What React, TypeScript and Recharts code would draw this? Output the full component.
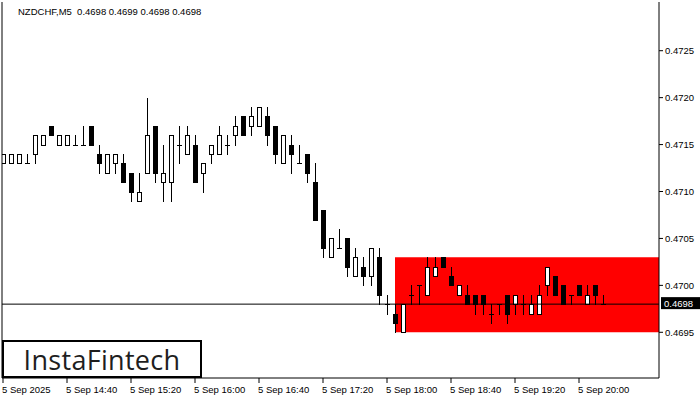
import { ComposedChart, Bar, XAxis, YAxis, ReferenceArea, ReferenceLine } from 'recharts'

// 5 minute candles, 14:00 .. 20:15
const opens = [
  0.4713, 0.4713, 0.4713, 0.4713, 0.4714, 0.4715, 0.4717, 0.4715, 0.4715, 0.4715,
  0.4715, 0.4717, 0.4714, 0.4712, 0.4713, 0.4713, 0.4712, 0.4709, 0.4712, 0.4717,
  0.4711, 0.4711, 0.4715, 0.4714, 0.4715, 0.4712, 0.4714, 0.4714, 0.4715, 0.4716,
  0.4718, 0.4717, 0.4717, 0.4718, 0.4717, 0.4713, 0.4715, 0.4713, 0.4714, 0.4711,
  0.4708, 0.4703, 0.4704, 0.4705, 0.4701, 0.4702, 0.4701, 0.4703, 0.4698, 0.4697,
  0.4695, 0.4699, 0.47, 0.4699, 0.4701, 0.4703, 0.4701, 0.4699, 0.4699, 0.4699,
  0.4699, 0.4697, 0.4698, 0.4699, 0.4698, 0.4698, 0.4697, 0.4697, 0.47, 0.4701,
  0.47, 0.4699, 0.47, 0.4698, 0.47, 0.4698,
]
const highs = [
  0.4714, 0.4714, 0.4714, 0.4714, 0.4716, 0.4716, 0.4717, 0.4716, 0.4716, 0.4716,
  0.4717, 0.4717, 0.4715, 0.4714, 0.4714, 0.4714, 0.4712, 0.4712, 0.472, 0.4717,
  0.4715, 0.4716, 0.4717, 0.4717, 0.4716, 0.4713, 0.4715, 0.4717, 0.4716, 0.4718,
  0.4718, 0.4719, 0.4719, 0.4719, 0.4717, 0.4716, 0.4716, 0.4715, 0.4714, 0.4713,
  0.4708, 0.4705, 0.4706, 0.4705, 0.4704, 0.4703, 0.4704, 0.4704, 0.4699, 0.4698,
  0.4698, 0.47, 0.47, 0.4703, 0.4703, 0.4703, 0.4702, 0.47, 0.47, 0.4699,
  0.4699, 0.4698, 0.4698, 0.4699, 0.4699, 0.4699, 0.4699, 0.47, 0.4702, 0.4701,
  0.47, 0.4699, 0.47, 0.47, 0.47, 0.4699,
]
const lows = [
  0.4713, 0.4713, 0.4713, 0.4713, 0.4713, 0.4715, 0.4716, 0.4715, 0.4715, 0.4715,
  0.4715, 0.4715, 0.4712, 0.4712, 0.4712, 0.4711, 0.4709, 0.4709, 0.4712, 0.4711,
  0.4709, 0.4709, 0.4713, 0.4714, 0.4711, 0.471, 0.4713, 0.4714, 0.4714, 0.4715,
  0.4716, 0.4716, 0.4717, 0.4715, 0.4713, 0.4713, 0.4712, 0.4713, 0.4711, 0.4707,
  0.4703, 0.4703, 0.4704, 0.4701, 0.4701, 0.47, 0.47, 0.4698, 0.4697, 0.4695,
  0.4695, 0.4698, 0.4698, 0.4699, 0.4701, 0.4702, 0.47, 0.4699, 0.4698, 0.4697,
  0.4697, 0.4696, 0.4697, 0.4696, 0.4697, 0.4697, 0.4697, 0.4697, 0.4699, 0.4699,
  0.4698, 0.4698, 0.4699, 0.4698, 0.4698, 0.4698,
]
const closes = [
  0.4714, 0.4714, 0.4714, 0.4713, 0.4716, 0.4716, 0.4716, 0.4716, 0.4716, 0.4715,
  0.4715, 0.4715, 0.4713, 0.4714, 0.4714, 0.4711, 0.471, 0.471, 0.4716, 0.4712,
  0.4712, 0.4716, 0.4715, 0.4716, 0.4711, 0.4713, 0.4715, 0.4716, 0.4715, 0.4717,
  0.4716, 0.4718, 0.4719, 0.4716, 0.4714, 0.4716, 0.4714, 0.4713, 0.4712, 0.4707,
  0.4704, 0.4705, 0.4704, 0.4702, 0.4703, 0.4701, 0.4704, 0.4699, 0.4698, 0.4696,
  0.4698, 0.4699, 0.47, 0.4702, 0.4702, 0.4702, 0.47, 0.47, 0.4698, 0.4698,
  0.4698, 0.4697, 0.4698, 0.4697, 0.4699, 0.4698, 0.4698, 0.4699, 0.4702, 0.4699,
  0.4698, 0.4699, 0.4699, 0.4699, 0.4699, 0.4698,
]

const timeTicks = [0, 8, 16, 24, 32, 40, 48, 56, 64, 72]
const timeLabels = [
  '5 Sep 2025', '5 Sep 14:40', '5 Sep 15:20', '5 Sep 16:00', '5 Sep 16:40',
  '5 Sep 17:20', '5 Sep 18:00', '5 Sep 18:40', '5 Sep 19:20', '5 Sep 20:00',
]
const priceTicks = [0.4695, 0.47, 0.4705, 0.471, 0.4715, 0.472, 0.4725]

const lastPrice = 0.4698
const zoneStart = 49
const zoneLow = 0.4695
const zoneHigh = 0.4703

const data = opens.map((o, i) => ({
  idx: i,
  range: [lows[i], highs[i]],
  open: o,
  high: highs[i],
  low: lows[i],
  close: closes[i],
}))

const FONT = '"Liberation Sans", Arial, sans-serif'

function Candle(props: any) {
  const { x, y, width, height, payload } = props
  if (!payload) return null
  const { open, close, high, low } = payload
  const cx = Math.round(x + width / 2)
  const top = Math.min(y, y + height)
  const h = Math.abs(height)
  const py = (p: number) => Math.round(top + ((high - p) / (high - low)) * h)
  const yH = py(high)
  const yL = py(low)
  const yO = py(open)
  const yC = py(close)
  const bTop = Math.min(yO, yC)
  const bBot = Math.max(yO, yC)
  return (
    <g shapeRendering='crispEdges'>
      <rect x={cx} y={yH} width={1} height={yL - yH + 1} fill='#000' />
      {open === close ? (
        <rect x={cx - 2} y={yO} width={5} height={1} fill='#000' />
      ) : close > open ? (
        <>
          <rect x={cx - 2} y={bTop} width={5} height={bBot - bTop + 1} fill='#000' />
          <rect x={cx - 1} y={bTop + 1} width={3} height={Math.max(bBot - bTop - 1, 0)} fill='#fff' />
        </>
      ) : (
        <rect x={cx - 2} y={bTop} width={5} height={bBot - bTop + 1} fill='#000' />
      )}
    </g>
  )
}

function TimeTick(props: any) {
  const { x, y, payload } = props
  const k = timeTicks.indexOf(payload.value)
  return (
    <text x={x - 1} y={y} dy='0.71em' textAnchor='start' fontSize={9.5} fontFamily={FONT} fill='#000'>
      {timeLabels[k]}
    </text>
  )
}

function PriceTag(props: any) {
  const { viewBox } = props
  const right = viewBox.x + viewBox.width
  return (
    <g>
      <rect x={right + 2} y={viewBox.y - 7} width={39} height={12} fill='#000' />
      <text x={right + 5} y={viewBox.y + 3} fontSize={9.5} fontFamily={FONT} fill='#fff'>
        {lastPrice.toFixed(4)}
      </text>
    </g>
  )
}

export default function App() {
  return (
    <div style={{ position: 'absolute', left: 0, top: 0, width: 700, height: 400, background: '#fff' }}>
      <ComposedChart width={700} height={400} data={data} margin={{ top: 2, right: 0, left: 0, bottom: 0 }}>
        <XAxis
          dataKey='idx'
          type='number'
          domain={[-0.125, 82]}
          allowDataOverflow
          ticks={timeTicks}
          interval={0}
          height={22}
          tickSize={5}
          tickMargin={3}
          stroke='#000'
          tick={<TimeTick />}
        />
        <YAxis yAxisId='f' orientation='left' width={2} domain={[0.469013, 0.473019]} allowDataOverflow tick={false} tickLine={false} stroke='#000' />
        <YAxis
          yAxisId='p'
          orientation='right'
          width={41}
          domain={[0.469013, 0.473019]}
          allowDataOverflow
          ticks={priceTicks}
          interval={0}
          tickSize={4}
          tickMargin={2}
          stroke='#000'
          tick={{ fill: '#000', fontSize: 9.5, fontFamily: FONT }}
          tickFormatter={(v: number) => v.toFixed(4)}
        />
        <ReferenceArea yAxisId='p' x1={zoneStart} x2={82} y1={zoneLow} y2={zoneHigh} fill='#ff0000' fillOpacity={1} stroke='none' ifOverflow='hidden' />
        <ReferenceLine yAxisId='p' y={lastPrice} stroke='#000' strokeWidth={1} label={<PriceTag />} />
        <Bar yAxisId='p' dataKey='range' barSize={5} shape={<Candle />} isAnimationActive={false} />
      </ComposedChart>
      <div style={{ position: 'absolute', left: 18, top: 6, fontFamily: FONT, fontSize: 9.5, lineHeight: '11px', whiteSpace: 'pre', color: '#000' }}>
        {'NZDCHF,M5  0.4698 0.4699 0.4698 0.4698'}
      </div>
      <div
        style={{
          position: 'absolute',
          left: 2,
          top: 340,
          width: 196,
          height: 34,
          border: '2px solid #000',
          background: '#fff',
          display: 'flex',
          alignItems: 'center',
          justifyContent: 'center',
          fontFamily: '"Open Sans", Lato, sans-serif',
          fontWeight: 500,
          fontSize: 27,
          letterSpacing: 0.3,
          color: '#1e1e1e',
        }}
      >
        InstaFintech
      </div>
    </div>
  )
}
